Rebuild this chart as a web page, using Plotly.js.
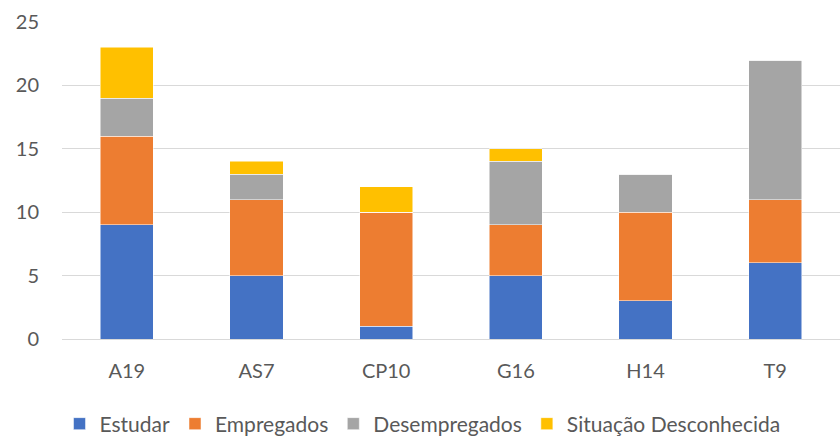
<!DOCTYPE html>
<html>
<head>
<meta charset="utf-8">
<script src="https://cdn.plot.ly/plotly-3.0.1.min.js"></script>
<style>html,body{margin:0;padding:0;background:#fff;}#chart{width:840px;height:438px;}</style>
</head>
<body>
<div id="chart"></div>
<script>
const categories = ["A19", "AS7", "CP10", "G16", "H14", "T9"];
const seriesNames = ["Estudar", "Empregados", "Desempregados", "Situação Desconhecida"];
const estudar = [9, 5, 1, 5, 3, 6];
const empregados = [7, 6, 9, 4, 7, 5];
const desempregados = [3, 2, 0, 5, 3, 11];
const desconhecida = [4, 1, 2, 1, 0, 0];
const colors = ["#4472C4", "#ED7D31", "#A5A5A5", "#FFC000"];
const yTicks = [0, 5, 10, 15, 20, 25];

const values = [estudar, empregados, desempregados, desconhecida];
const fontFam = "Lato, 'Noto Sans', sans-serif";
const traces = values.map((v, i) => ({
  type: "bar",
  name: seriesNames[i],
  x: categories,
  y: v,
  marker: {color: colors[i], line: {color: "#ffffff", width: 0.5}},
  hoverinfo: "x+y+name"
}));

const layout = {
  width: 840, height: 438,
  margin: {l: 62, r: 0, t: 22, b: 98.5},
  barmode: "stack",
  bargap: 0.59,
  paper_bgcolor: "#fff", plot_bgcolor: "#fff",
  font: {family: fontFam, size: 20, color: "#595959"},
  xaxis: {
    type: "category",
    showgrid: false, zeroline: false,
    showline: true, linecolor: "#D9D9D9", linewidth: 1,
    ticks: "", tickfont: {size: 20, color: "#595959", family: fontFam},
    ticklabelstandoff: 14
  },
  yaxis: {
    range: [0, 25], tickvals: yTicks, ticktext: yTicks.map(String),
    showgrid: true, gridcolor: "#D9D9D9", gridwidth: 1,
    zeroline: false, showline: false, ticks: "",
    tickfont: {size: 20, color: "#595959", family: fontFam},
    ticklabelstandoff: 22
  },
  showlegend: true,
  legend: {
    orientation: "h", xref: "container", yref: "container",
    x: 0.503, xanchor: "center", y: 0.032, yanchor: "middle",
    font: {size: 21, color: "#595959", family: fontFam},
    itemwidth: 30, traceorder: "normal", itemclick: false
  }
};
Plotly.newPlot("chart", traces, layout, {displayModeBar: false, staticPlot: true});
</script>
</body>
</html>
